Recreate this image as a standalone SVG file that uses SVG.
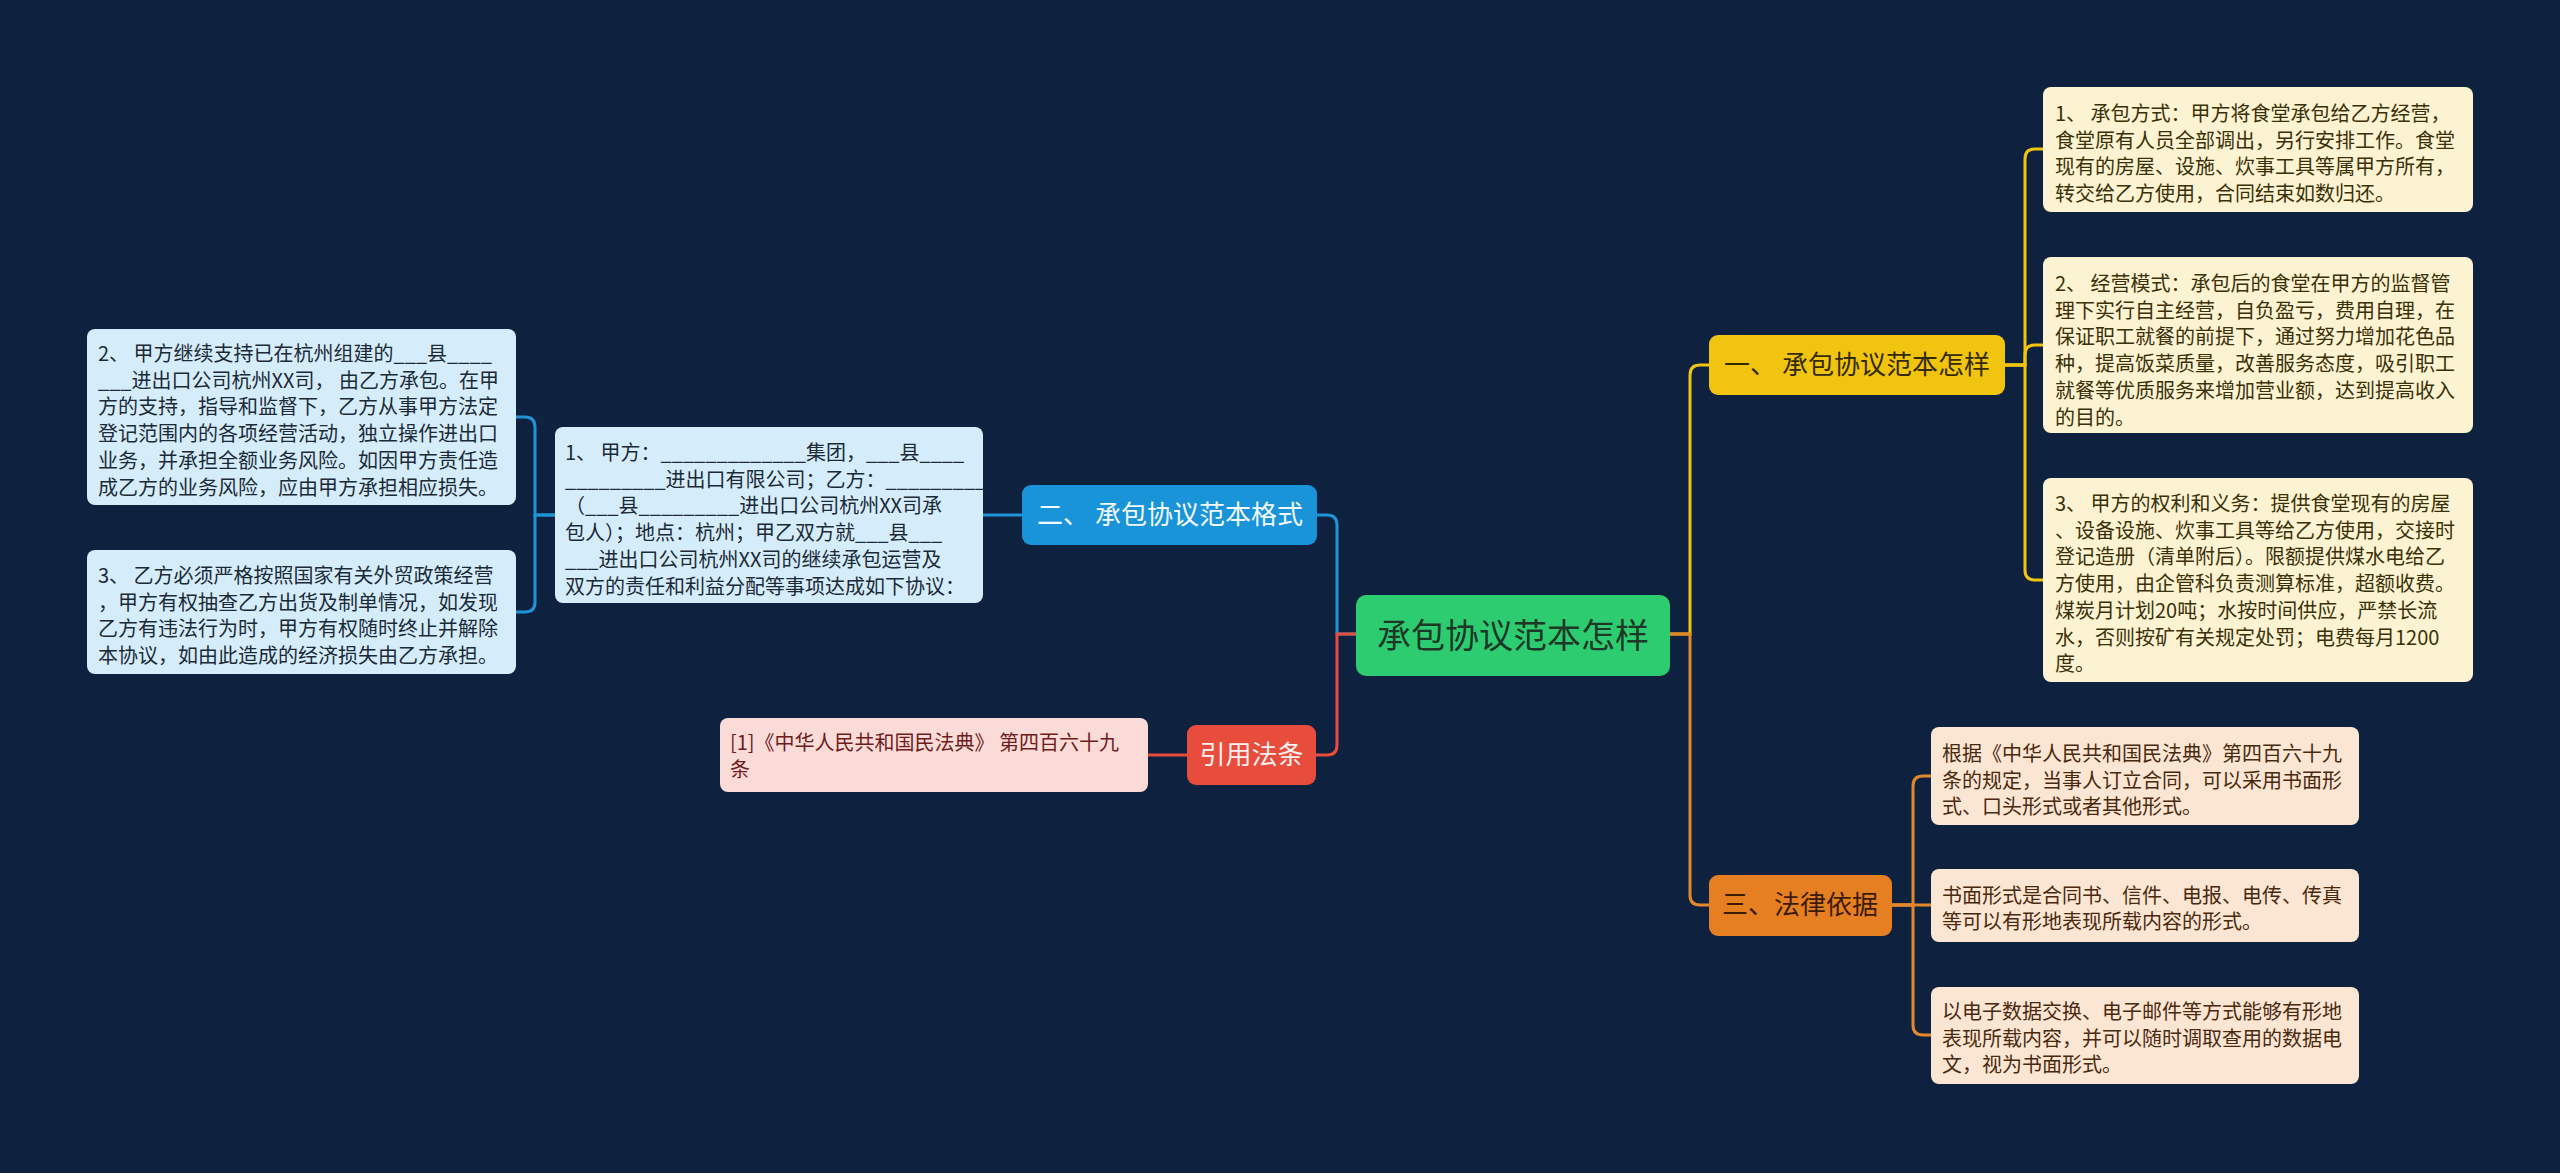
<svg xmlns="http://www.w3.org/2000/svg" width="2560" height="1173" viewBox="0 0 2560 1173">
<style>
text{font-family:"Noto Sans CJK SC","Noto Sans",sans-serif;}
.leaf{font-size:20px;}
.c{fill:none;stroke-width:3;}
.cy{stroke:#f1c40f;}
.co{stroke:#e3872c;}
.cb{stroke:#1f93d6;}
.cr{stroke:#e74c3c;}
.tb{fill:#1c2a38;}
.ty{fill:#3b3008;}
.tp{fill:#4a2a0e;}
</style>
<rect x="0" y="0" width="2560" height="1173" fill="#0e2240"/>
<g id="connectors">
<path class="c cy" d="M1670,634 H1690 V375 Q1690,365 1700,365 H1709"/>
<path class="c co" d="M1670,634 H1690 V895 Q1690,905 1700,905 H1709"/>
<path class="c cy" d="M2005,365 H2025 V159 Q2025,149 2035,149 H2043"/>
<path class="c cy" d="M2005,365 H2025 V355 Q2025,345 2035,345 H2043"/>
<path class="c cy" d="M2005,365 H2025 V570 Q2025,580 2035,580 H2043"/>
<path class="c co" d="M1892,905 H1913 V786 Q1913,776 1923,776 H1931"/>
<path class="c co" d="M1892,905 H1931"/>
<path class="c co" d="M1892,905 H1913 V1025 Q1913,1035 1923,1035 H1931"/>
<path class="c cb" d="M1356,634 H1337 V525 Q1337,515 1327,515 H1317"/>
<path class="c cb" d="M1022,515 H983"/>
<path class="c cb" d="M555,515 H535 V427 Q535,417 525,417 H516"/>
<path class="c cb" d="M555,515 H535 V602 Q535,612 525,612 H516"/>
<path class="c cr" d="M1356,634 H1337 V745 Q1337,755 1327,755 H1316"/>
<path class="c cr" d="M1187,755 H1148"/>
</g>
<g id="root">
<rect x="1356" y="595" width="314" height="81" rx="10" fill="#2ecc71"/>
<text x="1513" y="648" font-size="34" text-anchor="middle" fill="#1d3826">承包协议范本怎样</text>
</g>
<g id="n1">
<rect x="1709" y="335" width="296" height="60" rx="9" fill="#f1c40f"/>
<text x="1857" y="374" font-size="26" text-anchor="middle" fill="#332a06">一、 承包协议范本怎样</text>
</g>
<g id="n2">
<rect x="1022" y="485" width="295" height="60" rx="9" fill="#1a94d8"/>
<text x="1170" y="524" font-size="26" text-anchor="middle" fill="#f2f8fc">二、 承包协议范本格式</text>
</g>
<g id="n3">
<rect x="1709" y="875" width="183" height="61" rx="9" fill="#e67e22"/>
<text x="1800" y="914" font-size="26" text-anchor="middle" fill="#3a1c06">三、法律依据</text>
</g>
<g id="n4">
<rect x="1187" y="725" width="129" height="60" rx="9" fill="#e74c3c"/>
<text x="1251.5" y="764" font-size="26" text-anchor="middle" fill="#fdf0ee">引用法条</text>
</g>
<g id="leaf-cite">
<rect x="720" y="718" width="428" height="74" rx="8" fill="#fadbd7"/>
<text class="leaf" fill="#6e1c1c"><tspan x="730" y="750">[1]《中华人民共和国民法典》 第四百六十九</tspan><tspan x="730" y="777">条</tspan></text>
</g>
<g id="leaf-b1">
<rect x="555" y="427" width="428" height="176" rx="8" fill="#d5edfa"/>
<text class="leaf tb"><tspan x="565" y="460">1、 甲方：_____________集团，___县____</tspan><tspan x="565" y="486.7">_________进出口有限公司；乙方：_________</tspan><tspan x="565" y="513.4">（___县_________进出口公司杭州XX司承</tspan><tspan x="565" y="540.1">包人）；地点：杭州；甲乙双方就___县___</tspan><tspan x="565" y="566.8">___进出口公司杭州XX司的继续承包运营及</tspan><tspan x="565" y="593.5">双方的责任和利益分配等事项达成如下协议：</tspan></text>
</g>
<g id="leaf-b2">
<rect x="87" y="329" width="429" height="176" rx="8" fill="#d5edfa"/>
<text class="leaf tb"><tspan x="98" y="361">2、 甲方继续支持已在杭州组建的___县____</tspan><tspan x="98" y="387.7">___进出口公司杭州XX司， 由乙方承包。在甲</tspan><tspan x="98" y="414.4">方的支持，指导和监督下，乙方从事甲方法定</tspan><tspan x="98" y="441.1">登记范围内的各项经营活动，独立操作进出口</tspan><tspan x="98" y="467.8">业务，并承担全额业务风险。如因甲方责任造</tspan><tspan x="98" y="494.5">成乙方的业务风险，应由甲方承担相应损失。</tspan></text>
</g>
<g id="leaf-b3">
<rect x="87" y="550" width="429" height="124" rx="8" fill="#d5edfa"/>
<text class="leaf tb"><tspan x="98" y="583">3、 乙方必须严格按照国家有关外贸政策经营</tspan><tspan x="98" y="609.7">，甲方有权抽查乙方出货及制单情况，如发现</tspan><tspan x="98" y="636.4">乙方有违法行为时，甲方有权随时终止并解除</tspan><tspan x="98" y="663.1">本协议，如由此造成的经济损失由乙方承担。</tspan></text>
</g>
<g id="leaf-y1">
<rect x="2043" y="87" width="430" height="125" rx="8" fill="#fcf3d2"/>
<text class="leaf ty"><tspan x="2055" y="121">1、 承包方式：甲方将食堂承包给乙方经营，</tspan><tspan x="2055" y="147.7">食堂原有人员全部调出，另行安排工作。食堂</tspan><tspan x="2055" y="174.4">现有的房屋、设施、炊事工具等属甲方所有，</tspan><tspan x="2055" y="201.1">转交给乙方使用，合同结束如数归还。</tspan></text>
</g>
<g id="leaf-y2">
<rect x="2043" y="257" width="430" height="176" rx="8" fill="#fcf3d2"/>
<text class="leaf ty"><tspan x="2055" y="291">2、 经营模式：承包后的食堂在甲方的监督管</tspan><tspan x="2055" y="317.7">理下实行自主经营，自负盈亏，费用自理，在</tspan><tspan x="2055" y="344.4">保证职工就餐的前提下，通过努力增加花色品</tspan><tspan x="2055" y="371.1">种，提高饭菜质量，改善服务态度，吸引职工</tspan><tspan x="2055" y="397.8">就餐等优质服务来增加营业额，达到提高收入</tspan><tspan x="2055" y="424.5">的目的。</tspan></text>
</g>
<g id="leaf-y3">
<rect x="2043" y="478" width="430" height="204" rx="8" fill="#fcf3d2"/>
<text class="leaf ty"><tspan x="2055" y="511">3、 甲方的权利和义务：提供食堂现有的房屋</tspan><tspan x="2055" y="537.7">、设备设施、炊事工具等给乙方使用，交接时</tspan><tspan x="2055" y="564.4">登记造册（清单附后）。限额提供煤水电给乙</tspan><tspan x="2055" y="591.1">方使用，由企管科负责测算标准，超额收费。</tspan><tspan x="2055" y="617.8">煤炭月计划20吨；水按时间供应，严禁长流</tspan><tspan x="2055" y="644.5">水，否则按矿有关规定处罚；电费每月1200</tspan><tspan x="2055" y="671.2">度。</tspan></text>
</g>
<g id="leaf-p1">
<rect x="1931" y="727" width="428" height="98" rx="8" fill="#fbe5d3"/>
<text class="leaf tp"><tspan x="1942" y="761">根据《中华人民共和国民法典》第四百六十九</tspan><tspan x="1942" y="787.7">条的规定，当事人订立合同，可以采用书面形</tspan><tspan x="1942" y="814.4">式、口头形式或者其他形式。</tspan></text>
</g>
<g id="leaf-p2">
<rect x="1931" y="869" width="428" height="73" rx="8" fill="#fbe5d3"/>
<text class="leaf tp"><tspan x="1942" y="902.5">书面形式是合同书、信件、电报、电传、传真</tspan><tspan x="1942" y="929.2">等可以有形地表现所载内容的形式。</tspan></text>
</g>
<g id="leaf-p3">
<rect x="1931" y="987" width="428" height="97" rx="8" fill="#fbe5d3"/>
<text class="leaf tp"><tspan x="1942" y="1019">以电子数据交换、电子邮件等方式能够有形地</tspan><tspan x="1942" y="1045.7">表现所载内容，并可以随时调取查用的数据电</tspan><tspan x="1942" y="1072.4">文，视为书面形式。</tspan></text>
</g>
</svg>
